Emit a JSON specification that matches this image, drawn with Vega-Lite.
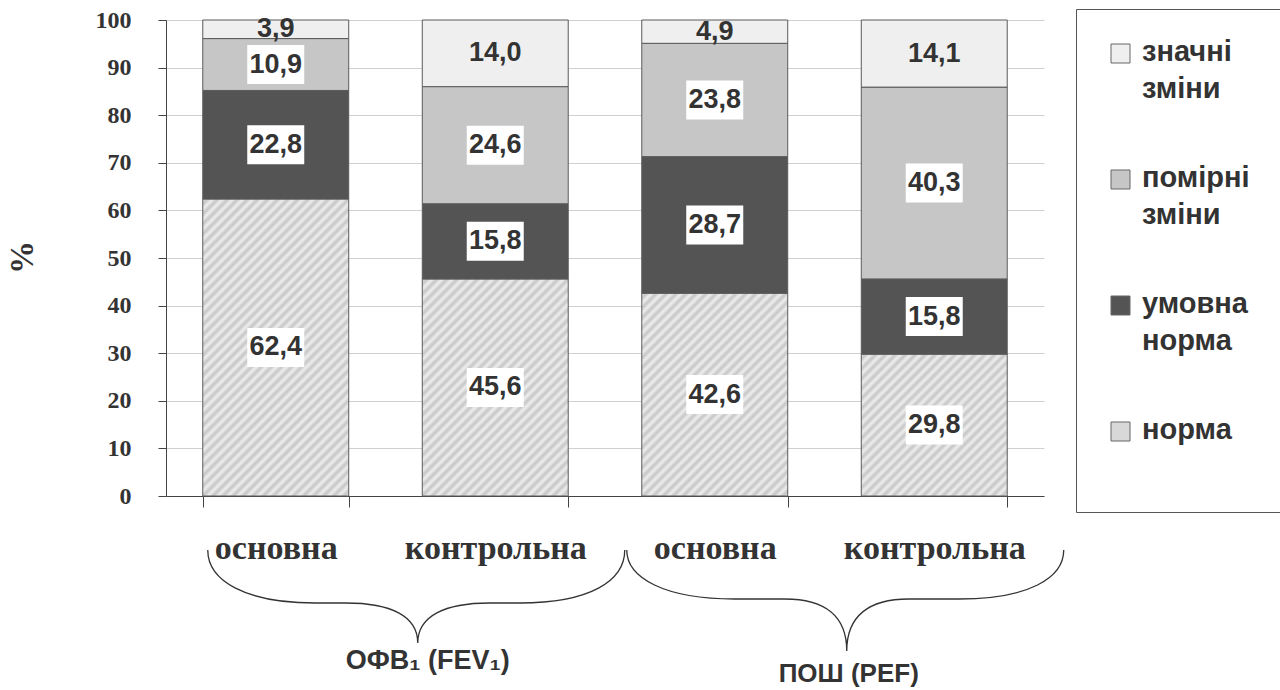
{
  "$schema": "https://vega.github.io/schema/vega-lite/v6.json",
  "width": 878,
  "height": 476,
  "autosize": {"type": "none"},
  "padding": {"left": 166, "top": 20, "right": 236, "bottom": 194},
  "background": "white",
  "config": {"view": {"stroke": null}},
  "datasets": {
    "shares": [
      {"bar": "ОФВ₁ основна", "cat": "норма", "k": 1, "v": 62.4},
      {"bar": "ОФВ₁ основна", "cat": "умовна норма", "k": 2, "v": 22.8},
      {"bar": "ОФВ₁ основна", "cat": "помірні зміни", "k": 3, "v": 10.9},
      {"bar": "ОФВ₁ основна", "cat": "значні зміни", "k": 4, "v": 3.9},
      {"bar": "ОФВ₁ контрольна", "cat": "норма", "k": 1, "v": 45.6},
      {"bar": "ОФВ₁ контрольна", "cat": "умовна норма", "k": 2, "v": 15.8},
      {"bar": "ОФВ₁ контрольна", "cat": "помірні зміни", "k": 3, "v": 24.6},
      {"bar": "ОФВ₁ контрольна", "cat": "значні зміни", "k": 4, "v": 14.0},
      {"bar": "ПОШ основна", "cat": "норма", "k": 1, "v": 42.6},
      {"bar": "ПОШ основна", "cat": "умовна норма", "k": 2, "v": 28.7},
      {"bar": "ПОШ основна", "cat": "помірні зміни", "k": 3, "v": 23.8},
      {"bar": "ПОШ основна", "cat": "значні зміни", "k": 4, "v": 4.9},
      {"bar": "ПОШ контрольна", "cat": "норма", "k": 1, "v": 29.8},
      {"bar": "ПОШ контрольна", "cat": "умовна норма", "k": 2, "v": 15.8},
      {"bar": "ПОШ контрольна", "cat": "помірні зміни", "k": 3, "v": 40.3},
      {"bar": "ПОШ контрольна", "cat": "значні зміни", "k": 4, "v": 14.1}
    ]
  },
  "layer": [
    {
      "data": {"name": "shares"},
      "mark": {"type": "bar", "stroke": "#5a5a5a", "strokeWidth": 1},
      "encoding": {
        "x": {
          "field": "bar", "type": "nominal", "sort": null,
          "scale": {"domain": ["ОФВ₁ основна", "ОФВ₁ контрольна", "ПОШ основна", "ПОШ контрольна"], "paddingInner": 0.335, "paddingOuter": 0.1675},
          "axis": {
            "title": null, "grid": false, "tickBand": "extent", "tickSize": 11,
            "tickColor": "#444", "domainColor": "#444", "labelAngle": 0,
            "labelFont": "Liberation Serif", "labelFontWeight": "bold", "labelFontSize": 34,
            "labelColor": "#333", "labelPadding": 24, "labelLimit": 400,
            "labelExpr": "split(datum.label, ' ')[1]"
          }
        },
        "y": {
          "field": "v", "type": "quantitative", "stack": "zero", "title": "%",
          "scale": {"domain": [0, 100], "nice": false},
          "axis": {
            "values": [0, 10, 20, 30, 40, 50, 60, 70, 80, 90, 100],
            "grid": true, "gridColor": "#d0d0d0", "domainColor": "#444", "tickColor": "#444", "tickSize": 8,
            "labelFont": "Liberation Serif", "labelFontWeight": "bold", "labelFontSize": 24,
            "labelColor": "#333", "labelPadding": 27,
            "titleFont": "Liberation Serif", "titleFontWeight": "bold", "titleFontSize": 33,
            "titleColor": "#333", "titleX": -144, "titleY": 237, "titleAngle": -90,
            "titleAlign": "center", "titleBaseline": "middle"
          }
        },
        "order": {"field": "k", "type": "quantitative"},
        "fill": {
          "condition": [
            {"test": "datum.k === 1 && datum.bar === 'ОФВ₁ основна'", "value": {"gradient": "linear", "x1": 0, "y1": 0, "x2": 0.5906, "y2": 1.2013, "stops": [
              {"offset":0,"color":"#eee"},{"offset":0.0114,"color":"#c6c6c6"},{"offset":0.0227,"color":"#eee"},{"offset":0.0341,"color":"#c6c6c6"},{"offset":0.0455,"color":"#eee"},{"offset":0.0568,"color":"#c6c6c6"},{"offset":0.0682,"color":"#eee"},{"offset":0.0795,"color":"#c6c6c6"},{"offset":0.0909,"color":"#eee"},{"offset":0.1023,"color":"#c6c6c6"},{"offset":0.1136,"color":"#eee"},{"offset":0.125,"color":"#c6c6c6"},{"offset":0.1364,"color":"#eee"},{"offset":0.1477,"color":"#c6c6c6"},{"offset":0.1591,"color":"#eee"},{"offset":0.1705,"color":"#c6c6c6"},{"offset":0.1818,"color":"#eee"},{"offset":0.1932,"color":"#c6c6c6"},{"offset":0.2045,"color":"#eee"},{"offset":0.2159,"color":"#c6c6c6"},{"offset":0.2273,"color":"#eee"},{"offset":0.2386,"color":"#c6c6c6"},{"offset":0.25,"color":"#eee"},{"offset":0.2614,"color":"#c6c6c6"},{"offset":0.2727,"color":"#eee"},{"offset":0.2841,"color":"#c6c6c6"},{"offset":0.2955,"color":"#eee"},{"offset":0.3068,"color":"#c6c6c6"},{"offset":0.3182,"color":"#eee"},{"offset":0.3295,"color":"#c6c6c6"},{"offset":0.3409,"color":"#eee"},{"offset":0.3523,"color":"#c6c6c6"},{"offset":0.3636,"color":"#eee"},{"offset":0.375,"color":"#c6c6c6"},{"offset":0.3864,"color":"#eee"},{"offset":0.3977,"color":"#c6c6c6"},{"offset":0.4091,"color":"#eee"},{"offset":0.4205,"color":"#c6c6c6"},{"offset":0.4318,"color":"#eee"},{"offset":0.4432,"color":"#c6c6c6"},{"offset":0.4545,"color":"#eee"},{"offset":0.4659,"color":"#c6c6c6"},{"offset":0.4773,"color":"#eee"},{"offset":0.4886,"color":"#c6c6c6"},{"offset":0.5,"color":"#eee"},{"offset":0.5114,"color":"#c6c6c6"},{"offset":0.5227,"color":"#eee"},{"offset":0.5341,"color":"#c6c6c6"},{"offset":0.5455,"color":"#eee"},{"offset":0.5568,"color":"#c6c6c6"},{"offset":0.5682,"color":"#eee"},{"offset":0.5795,"color":"#c6c6c6"},{"offset":0.5909,"color":"#eee"},{"offset":0.6023,"color":"#c6c6c6"},{"offset":0.6136,"color":"#eee"},{"offset":0.625,"color":"#c6c6c6"},{"offset":0.6364,"color":"#eee"},{"offset":0.6477,"color":"#c6c6c6"},{"offset":0.6591,"color":"#eee"},{"offset":0.6705,"color":"#c6c6c6"},{"offset":0.6818,"color":"#eee"},{"offset":0.6932,"color":"#c6c6c6"},{"offset":0.7045,"color":"#eee"},{"offset":0.7159,"color":"#c6c6c6"},{"offset":0.7273,"color":"#eee"},{"offset":0.7386,"color":"#c6c6c6"},{"offset":0.75,"color":"#eee"},{"offset":0.7614,"color":"#c6c6c6"},{"offset":0.7727,"color":"#eee"},{"offset":0.7841,"color":"#c6c6c6"},{"offset":0.7955,"color":"#eee"},{"offset":0.8068,"color":"#c6c6c6"},{"offset":0.8182,"color":"#eee"},{"offset":0.8295,"color":"#c6c6c6"},{"offset":0.8409,"color":"#eee"},{"offset":0.8523,"color":"#c6c6c6"},{"offset":0.8636,"color":"#eee"},{"offset":0.875,"color":"#c6c6c6"},{"offset":0.8864,"color":"#eee"},{"offset":0.8977,"color":"#c6c6c6"},{"offset":0.9091,"color":"#eee"},{"offset":0.9205,"color":"#c6c6c6"},{"offset":0.9318,"color":"#eee"},{"offset":0.9432,"color":"#c6c6c6"},{"offset":0.9545,"color":"#eee"},{"offset":0.9659,"color":"#c6c6c6"},{"offset":0.9773,"color":"#eee"},{"offset":0.9886,"color":"#c6c6c6"},{"offset":1,"color":"#eee"}
            ]}},
            {"test": "datum.k === 1 && datum.bar === 'ОФВ₁ контрольна'", "value": {"gradient": "linear", "x1": 0, "y1": 0, "x2": 0.7745, "y2": 1.1515, "stops": [
              {"offset":0,"color":"#eee"},{"offset":0.0139,"color":"#c6c6c6"},{"offset":0.0278,"color":"#eee"},{"offset":0.0417,"color":"#c6c6c6"},{"offset":0.0556,"color":"#eee"},{"offset":0.0694,"color":"#c6c6c6"},{"offset":0.0833,"color":"#eee"},{"offset":0.0972,"color":"#c6c6c6"},{"offset":0.1111,"color":"#eee"},{"offset":0.125,"color":"#c6c6c6"},{"offset":0.1389,"color":"#eee"},{"offset":0.1528,"color":"#c6c6c6"},{"offset":0.1667,"color":"#eee"},{"offset":0.1806,"color":"#c6c6c6"},{"offset":0.1944,"color":"#eee"},{"offset":0.2083,"color":"#c6c6c6"},{"offset":0.2222,"color":"#eee"},{"offset":0.2361,"color":"#c6c6c6"},{"offset":0.25,"color":"#eee"},{"offset":0.2639,"color":"#c6c6c6"},{"offset":0.2778,"color":"#eee"},{"offset":0.2917,"color":"#c6c6c6"},{"offset":0.3056,"color":"#eee"},{"offset":0.3194,"color":"#c6c6c6"},{"offset":0.3333,"color":"#eee"},{"offset":0.3472,"color":"#c6c6c6"},{"offset":0.3611,"color":"#eee"},{"offset":0.375,"color":"#c6c6c6"},{"offset":0.3889,"color":"#eee"},{"offset":0.4028,"color":"#c6c6c6"},{"offset":0.4167,"color":"#eee"},{"offset":0.4306,"color":"#c6c6c6"},{"offset":0.4444,"color":"#eee"},{"offset":0.4583,"color":"#c6c6c6"},{"offset":0.4722,"color":"#eee"},{"offset":0.4861,"color":"#c6c6c6"},{"offset":0.5,"color":"#eee"},{"offset":0.5139,"color":"#c6c6c6"},{"offset":0.5278,"color":"#eee"},{"offset":0.5417,"color":"#c6c6c6"},{"offset":0.5556,"color":"#eee"},{"offset":0.5694,"color":"#c6c6c6"},{"offset":0.5833,"color":"#eee"},{"offset":0.5972,"color":"#c6c6c6"},{"offset":0.6111,"color":"#eee"},{"offset":0.625,"color":"#c6c6c6"},{"offset":0.6389,"color":"#eee"},{"offset":0.6528,"color":"#c6c6c6"},{"offset":0.6667,"color":"#eee"},{"offset":0.6806,"color":"#c6c6c6"},{"offset":0.6944,"color":"#eee"},{"offset":0.7083,"color":"#c6c6c6"},{"offset":0.7222,"color":"#eee"},{"offset":0.7361,"color":"#c6c6c6"},{"offset":0.75,"color":"#eee"},{"offset":0.7639,"color":"#c6c6c6"},{"offset":0.7778,"color":"#eee"},{"offset":0.7917,"color":"#c6c6c6"},{"offset":0.8056,"color":"#eee"},{"offset":0.8194,"color":"#c6c6c6"},{"offset":0.8333,"color":"#eee"},{"offset":0.8472,"color":"#c6c6c6"},{"offset":0.8611,"color":"#eee"},{"offset":0.875,"color":"#c6c6c6"},{"offset":0.8889,"color":"#eee"},{"offset":0.9028,"color":"#c6c6c6"},{"offset":0.9167,"color":"#eee"},{"offset":0.9306,"color":"#c6c6c6"},{"offset":0.9444,"color":"#eee"},{"offset":0.9583,"color":"#c6c6c6"},{"offset":0.9722,"color":"#eee"},{"offset":0.9861,"color":"#c6c6c6"},{"offset":1,"color":"#eee"}
            ]}},
            {"test": "datum.k === 1 && datum.bar === 'ПОШ основна'", "value": {"gradient": "linear", "x1": 0, "y1": 0, "x2": 0.8156, "y2": 1.1328, "stops": [
              {"offset":0,"color":"#eee"},{"offset":0.0143,"color":"#c6c6c6"},{"offset":0.0286,"color":"#eee"},{"offset":0.0429,"color":"#c6c6c6"},{"offset":0.0571,"color":"#eee"},{"offset":0.0714,"color":"#c6c6c6"},{"offset":0.0857,"color":"#eee"},{"offset":0.1,"color":"#c6c6c6"},{"offset":0.1143,"color":"#eee"},{"offset":0.1286,"color":"#c6c6c6"},{"offset":0.1429,"color":"#eee"},{"offset":0.1571,"color":"#c6c6c6"},{"offset":0.1714,"color":"#eee"},{"offset":0.1857,"color":"#c6c6c6"},{"offset":0.2,"color":"#eee"},{"offset":0.2143,"color":"#c6c6c6"},{"offset":0.2286,"color":"#eee"},{"offset":0.2429,"color":"#c6c6c6"},{"offset":0.2571,"color":"#eee"},{"offset":0.2714,"color":"#c6c6c6"},{"offset":0.2857,"color":"#eee"},{"offset":0.3,"color":"#c6c6c6"},{"offset":0.3143,"color":"#eee"},{"offset":0.3286,"color":"#c6c6c6"},{"offset":0.3429,"color":"#eee"},{"offset":0.3571,"color":"#c6c6c6"},{"offset":0.3714,"color":"#eee"},{"offset":0.3857,"color":"#c6c6c6"},{"offset":0.4,"color":"#eee"},{"offset":0.4143,"color":"#c6c6c6"},{"offset":0.4286,"color":"#eee"},{"offset":0.4429,"color":"#c6c6c6"},{"offset":0.4571,"color":"#eee"},{"offset":0.4714,"color":"#c6c6c6"},{"offset":0.4857,"color":"#eee"},{"offset":0.5,"color":"#c6c6c6"},{"offset":0.5143,"color":"#eee"},{"offset":0.5286,"color":"#c6c6c6"},{"offset":0.5429,"color":"#eee"},{"offset":0.5571,"color":"#c6c6c6"},{"offset":0.5714,"color":"#eee"},{"offset":0.5857,"color":"#c6c6c6"},{"offset":0.6,"color":"#eee"},{"offset":0.6143,"color":"#c6c6c6"},{"offset":0.6286,"color":"#eee"},{"offset":0.6429,"color":"#c6c6c6"},{"offset":0.6571,"color":"#eee"},{"offset":0.6714,"color":"#c6c6c6"},{"offset":0.6857,"color":"#eee"},{"offset":0.7,"color":"#c6c6c6"},{"offset":0.7143,"color":"#eee"},{"offset":0.7286,"color":"#c6c6c6"},{"offset":0.7429,"color":"#eee"},{"offset":0.7571,"color":"#c6c6c6"},{"offset":0.7714,"color":"#eee"},{"offset":0.7857,"color":"#c6c6c6"},{"offset":0.8,"color":"#eee"},{"offset":0.8143,"color":"#c6c6c6"},{"offset":0.8286,"color":"#eee"},{"offset":0.8429,"color":"#c6c6c6"},{"offset":0.8571,"color":"#eee"},{"offset":0.8714,"color":"#c6c6c6"},{"offset":0.8857,"color":"#eee"},{"offset":0.9,"color":"#c6c6c6"},{"offset":0.9143,"color":"#eee"},{"offset":0.9286,"color":"#c6c6c6"},{"offset":0.9429,"color":"#eee"},{"offset":0.9571,"color":"#c6c6c6"},{"offset":0.9714,"color":"#eee"},{"offset":0.9857,"color":"#c6c6c6"},{"offset":1,"color":"#eee"}
            ]}},
            {"test": "datum.k === 1 && datum.bar === 'ПОШ контрольна'", "value": {"gradient": "linear", "x1": 0, "y1": 0, "x2": 1.0142, "y2": 0.9854, "stops": [
              {"offset":0,"color":"#eee"},{"offset":0.0172,"color":"#c6c6c6"},{"offset":0.0345,"color":"#eee"},{"offset":0.0517,"color":"#c6c6c6"},{"offset":0.069,"color":"#eee"},{"offset":0.0862,"color":"#c6c6c6"},{"offset":0.1034,"color":"#eee"},{"offset":0.1207,"color":"#c6c6c6"},{"offset":0.1379,"color":"#eee"},{"offset":0.1552,"color":"#c6c6c6"},{"offset":0.1724,"color":"#eee"},{"offset":0.1897,"color":"#c6c6c6"},{"offset":0.2069,"color":"#eee"},{"offset":0.2241,"color":"#c6c6c6"},{"offset":0.2414,"color":"#eee"},{"offset":0.2586,"color":"#c6c6c6"},{"offset":0.2759,"color":"#eee"},{"offset":0.2931,"color":"#c6c6c6"},{"offset":0.3103,"color":"#eee"},{"offset":0.3276,"color":"#c6c6c6"},{"offset":0.3448,"color":"#eee"},{"offset":0.3621,"color":"#c6c6c6"},{"offset":0.3793,"color":"#eee"},{"offset":0.3966,"color":"#c6c6c6"},{"offset":0.4138,"color":"#eee"},{"offset":0.431,"color":"#c6c6c6"},{"offset":0.4483,"color":"#eee"},{"offset":0.4655,"color":"#c6c6c6"},{"offset":0.4828,"color":"#eee"},{"offset":0.5,"color":"#c6c6c6"},{"offset":0.5172,"color":"#eee"},{"offset":0.5345,"color":"#c6c6c6"},{"offset":0.5517,"color":"#eee"},{"offset":0.569,"color":"#c6c6c6"},{"offset":0.5862,"color":"#eee"},{"offset":0.6034,"color":"#c6c6c6"},{"offset":0.6207,"color":"#eee"},{"offset":0.6379,"color":"#c6c6c6"},{"offset":0.6552,"color":"#eee"},{"offset":0.6724,"color":"#c6c6c6"},{"offset":0.6897,"color":"#eee"},{"offset":0.7069,"color":"#c6c6c6"},{"offset":0.7241,"color":"#eee"},{"offset":0.7414,"color":"#c6c6c6"},{"offset":0.7586,"color":"#eee"},{"offset":0.7759,"color":"#c6c6c6"},{"offset":0.7931,"color":"#eee"},{"offset":0.8103,"color":"#c6c6c6"},{"offset":0.8276,"color":"#eee"},{"offset":0.8448,"color":"#c6c6c6"},{"offset":0.8621,"color":"#eee"},{"offset":0.8793,"color":"#c6c6c6"},{"offset":0.8966,"color":"#eee"},{"offset":0.9138,"color":"#c6c6c6"},{"offset":0.931,"color":"#eee"},{"offset":0.9483,"color":"#c6c6c6"},{"offset":0.9655,"color":"#eee"},{"offset":0.9828,"color":"#c6c6c6"},{"offset":1,"color":"#eee"}
            ]}}
          ],
          "field": "cat", "type": "nominal",
          "scale": {"domain": ["норма", "умовна норма", "помірні зміни", "значні зміни"], "range": ["#d8d8d8", "#545454", "#c6c6c6", "#efefef"]},
          "legend": {
            "orient": "none", "legendX": 910, "legendY": -11,
            "values": ["значні зміни", "помірні зміни", "умовна норма", "норма"],
            "title": null, "strokeColor": "#555", "fillColor": "white", "padding": 30,
            "symbolType": "square", "symbolSize": 361, "symbolStrokeColor": "#666", "symbolStrokeWidth": 1,
            "labelFont": "Liberation Sans", "labelFontWeight": "bold", "labelFontSize": 29,
            "labelColor": "#333", "labelExpr": "datum.label === 'норма' ? ['норма', ' '] : split(datum.label, ' ')",
            "labelBaseline": "top", "rowPadding": 59, "labelLimit": 300, "labelOffset": 7,
            "encode": {"labels": {"update": {"dy": {"value": -16}, "lineHeight": {"value": 37}}}}
          }
        }
      }
    },
    {
      "data": {"name": "shares"},
      "transform": [
        {"stack": "v", "groupby": ["bar"], "sort": [{"field": "k"}], "as": ["y0", "y1"]},
        {"calculate": "(datum.y0 + datum.y1) / 2", "as": "mid"},
        {"filter": "datum.k < 4"}
      ],
      "mark": {"type": "point", "shape": "M-1,-0.684L1,-0.684L1,0.684L-1,0.684Z", "size": 3249, "filled": true, "fill": "white", "opacity": 1, "strokeWidth": 0},
      "encoding": {
        "x": {"field": "bar", "type": "nominal", "sort": null, "title": null},
        "y": {"field": "mid", "type": "quantitative", "title": "%"}
      }
    },
    {
      "data": {"name": "shares"},
      "transform": [
        {"stack": "v", "groupby": ["bar"], "sort": [{"field": "k"}], "as": ["y0", "y1"]},
        {"calculate": "(datum.y0 + datum.y1) / 2", "as": "mid"},
        {"calculate": "replace(format(datum.v, '.1f'), '.', ',')", "as": "lbl"}
      ],
      "mark": {"type": "text", "font": "Liberation Sans", "fontWeight": "bold", "fontSize": 27, "color": "#333", "baseline": "middle", "align": "center"},
      "encoding": {
        "x": {"field": "bar", "type": "nominal", "sort": null, "title": null},
        "y": {"field": "mid", "type": "quantitative", "title": "%"},
        "text": {"field": "lbl"}
      }
    },
    {
      "data": {"values": [{"bar": "ОФВ₁ основна"}]},
      "mark": {"type": "point", "shape": "M-0.68,0.54C-0.68,0.85 -0.3,1.07 0.4,1.07L0.7,1.07C1.15,1.07 1.42,1.2 1.42,1.47C1.42,1.2 1.69,1.07 2.14,1.07L2.44,1.07C3.14,1.07 3.49,0.85 3.49,0.54", "size": 40000, "filled": false, "fill": null, "stroke": "#333", "strokeWidth": 1.3, "opacity": 1},
      "encoding": {
        "x": {"field": "bar", "type": "nominal", "sort": null, "title": null},
        "y": {"datum": 0, "type": "quantitative", "title": "%"}
      }
    },
    {
      "data": {"values": [{"bar": "ПОШ основна"}]},
      "mark": {"type": "point", "shape": "M-0.88,0.54C-0.88,0.82 -0.5,1.03 0.2,1.03L0.7,1.03C1.1,1.03 1.32,1.2 1.32,1.55C1.32,1.2 1.54,1.03 1.94,1.03L2.44,1.03C3.14,1.03 3.49,0.82 3.49,0.54", "size": 40000, "filled": false, "fill": null, "stroke": "#333", "strokeWidth": 1.3, "opacity": 1},
      "encoding": {
        "x": {"field": "bar", "type": "nominal", "sort": null, "title": null},
        "y": {"datum": 0, "type": "quantitative", "title": "%"}
      }
    },
    {
      "data": {"values": [{"bar": "ОФВ₁ основна", "name": "ОФВ₁ (FEV₁)"}]},
      "mark": {"type": "text", "font": "Liberation Sans", "fontWeight": "bold", "fontSize": 27, "color": "#333", "align": "center", "baseline": "alphabetic", "dx": 152, "dy": 173},
      "encoding": {
        "x": {"field": "bar", "type": "nominal", "sort": null, "title": null},
        "y": {"datum": 0, "type": "quantitative", "title": "%"},
        "text": {"field": "name"}
      }
    },
    {
      "data": {"values": [{"bar": "ПОШ основна", "name": "ПОШ (PEF)"}]},
      "mark": {"type": "text", "font": "Liberation Sans", "fontWeight": "bold", "fontSize": 26, "color": "#333", "align": "center", "baseline": "alphabetic", "dx": 134, "dy": 186},
      "encoding": {
        "x": {"field": "bar", "type": "nominal", "sort": null, "title": null},
        "y": {"datum": 0, "type": "quantitative", "title": "%"},
        "text": {"field": "name"}
      }
    }
  ]
}
